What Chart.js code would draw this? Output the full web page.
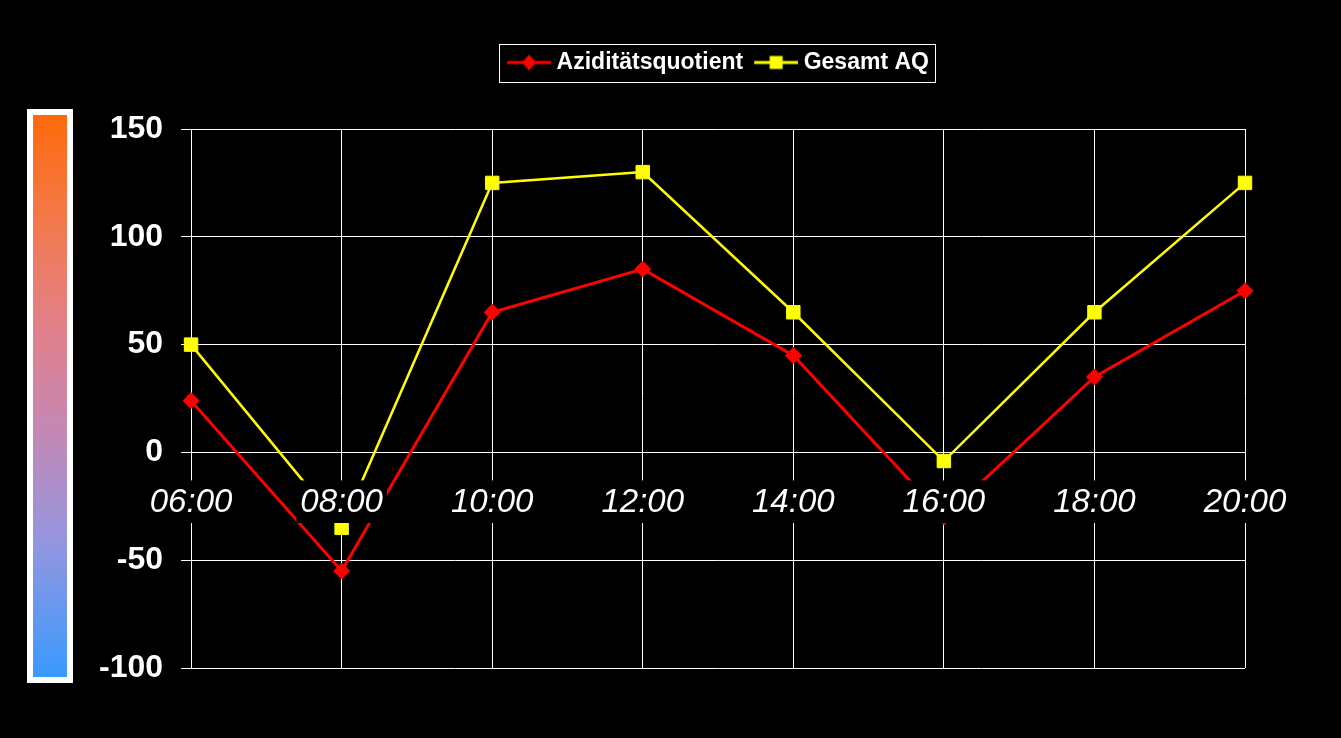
<!DOCTYPE html>
<html>
<head>
<meta charset="utf-8">
<script src="https://cdn.jsdelivr.net/npm/chart.js@4/dist/chart.umd.min.js"></script>
<style>
  html, body { margin: 0; padding: 0; background: #000; }
  #wrap { position: absolute; left: 0; top: 0; width: 1341px; height: 738px; }
  #scaleBar {
    position: absolute; left: 27px; top: 109px; width: 34px; height: 562px;
    border: 6px solid #fff;
    background: linear-gradient(to bottom, #ff6a0a 0%, #f27a50 20%, #e2808a 38%, #c488b4 56%, #9496e0 76%, #3a9aff 100%);
  }
</style>
</head>
<body>
<div id="wrap">
  <div id="scaleBar"></div>
  <canvas id="aqChart" width="1341" height="738"></canvas>
</div>
<script>
const hours = ['06:00', '08:00', '10:00', '12:00', '14:00', '16:00', '18:00', '20:00'];
const aziditaet = [24, -55, 65, 85, 45, -30, 35, 75];
const gesamtAQ = [50, -35, 125, 130, 65, -4, 65, 125];
const yTicks = [-100, -50, 0, 50, 100, 150];

const FONT = '"Liberation Sans", Arial, sans-serif';

// small line + marker images for the legend (like the office legend)
function legendIcon(color, shape) {
    const c = document.createElement('canvas');
    c.width = 50; c.height = 20;
    const g = c.getContext('2d');
    g.strokeStyle = color;
    g.lineWidth = 3;
    g.beginPath(); g.moveTo(6, 10); g.lineTo(50, 10); g.stroke();
    g.fillStyle = color;
    if (shape === 'diamond') {
        g.beginPath();
        g.moveTo(28, 2); g.lineTo(35, 10); g.lineTo(28, 18); g.lineTo(21, 10);
        g.closePath(); g.fill();
    } else {
        g.fillRect(21.5, 3.5, 13, 13);
    }
    return c;
}
const icons = [legendIcon('#ff0000', 'diamond'), legendIcon('#ffff00', 'square')];

const legendSpacer = {
    id: 'legendSpacer',
    afterInit(chart) {
        const lg = chart.legend;
        const fit = lg.fit.bind(lg);
        lg.fit = function () { fit(); this.height += 45; };
    },
    afterDraw(chart) {
        const boxes = chart.legend && chart.legend.legendHitBoxes;
        if (!boxes || !boxes.length) return;
        const first = boxes[0], last = boxes[boxes.length - 1];
        const cy = first.top + first.height / 2;
        const ctx = chart.ctx;
        ctx.save();
        ctx.strokeStyle = '#ffffff';
        ctx.lineWidth = 1;
        ctx.strokeRect(Math.round(first.left - 8) + 0.5, Math.round(cy - 19) + 0.5,
            Math.round(last.left + last.width - first.left + 14), 38);
        ctx.restore();
    }
};

new Chart(document.getElementById('aqChart'), {
    type: 'line',
    data: {
        labels: hours,
        datasets: [{
            label: 'Aziditätsquotient',
            data: aziditaet,
            borderColor: '#ff0000',
            backgroundColor: '#ff0000',
            borderWidth: 3,
            pointStyle: 'rectRot',
            pointRadius: 8,
            pointBorderWidth: 1,
            pointBackgroundColor: '#ff0000',
            pointBorderColor: '#ff0000',
            tension: 0
        }, {
            label: 'Gesamt AQ',
            data: gesamtAQ,
            borderColor: '#ffff00',
            backgroundColor: '#ffff00',
            borderWidth: 2.5,
            pointStyle: 'rect',
            pointRadius: 9.5,
            pointBorderWidth: 1,
            pointBackgroundColor: '#ffff00',
            pointBorderColor: '#ffff00',
            tension: 0
        }]
    },
    options: {
        responsive: false,
        animation: false,
        layout: { padding: { top: 40, left: 81, right: 96, bottom: 70 } },
        plugins: {
            legend: {
                position: 'top',
                fullSize: false,
                labels: {
                    color: '#ffffff',
                    font: { family: FONT, size: 23, weight: 'bold' },
                    usePointStyle: true,
                    pointStyleWidth: 38,
                    padding: 11,
                    generateLabels: (chart) => {
                        const items = Chart.defaults.plugins.legend.labels.generateLabels(chart);
                        items.forEach((it, i) => { it.pointStyle = icons[i]; });
                        return items;
                    }
                }
            },
            tooltip: { enabled: false }
        },
        scales: {
            x: {
                type: 'category',
                position: { y: 0 },
                offset: false,
                grid: { color: '#ffffff', lineWidth: 1, drawTicks: false },
                border: { color: '#ffffff', width: 1 },
                ticks: {
                    color: '#ffffff',
                    font: { family: FONT, size: 33, style: 'italic' },
                    padding: 31,
                    maxRotation: 0,
                    autoSkip: false,
                    showLabelBackdrop: true,
                    backdropColor: '#000000',
                    backdropPadding: { top: 3, bottom: 0, left: 4, right: 4 },
                    z: 1
                },
                afterFit: (scale) => { scale.height = 0; }
            },
            y: {
                min: yTicks[0],
                max: yTicks[yTicks.length - 1],
                afterBuildTicks: (scale) => { scale.ticks = yTicks.map(v => ({ value: v })); },
                grid: { color: '#ffffff', lineWidth: 1, tickLength: 10 },
                border: { color: '#ffffff', width: 1 },
                ticks: {
                    color: '#ffffff',
                    font: { family: FONT, size: 32, weight: 'bold' },
                    padding: 18
                }
            }
        }
    },
    plugins: [legendSpacer]
});
</script>
</body>
</html>
